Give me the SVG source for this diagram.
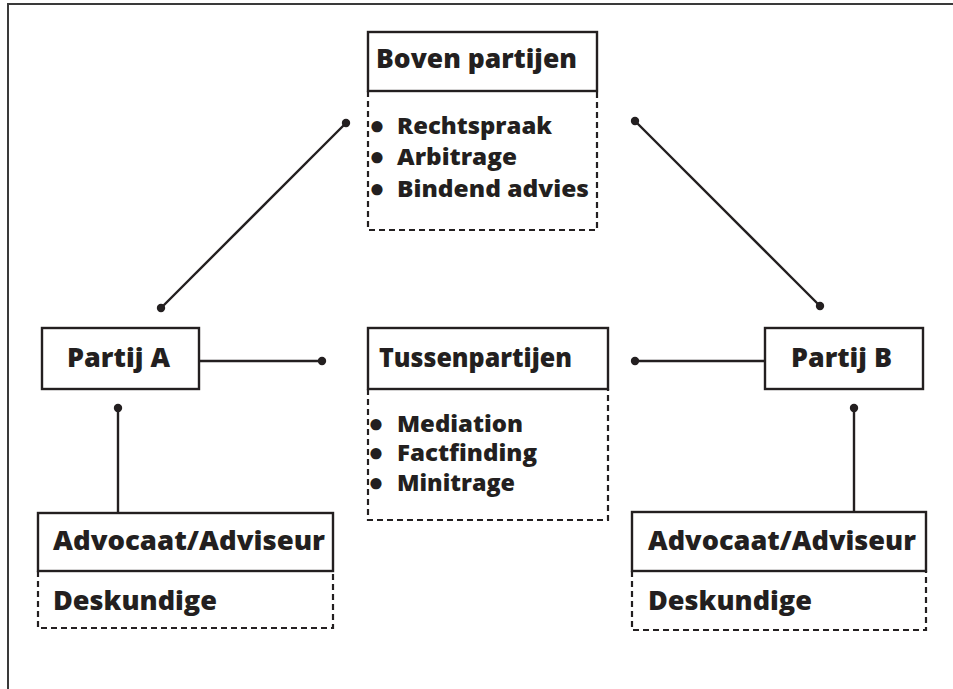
<svg xmlns="http://www.w3.org/2000/svg" width="953" height="689" viewBox="0 0 953 689">
<style>
.bg{fill:#ffffff}
.frame{fill:none;stroke:#3a3a3a;stroke-width:2}
.solid{fill:#ffffff;stroke:#231f20;stroke-width:2.4}
.dash{fill:none;stroke:#231f20;stroke-width:2.2;stroke-dasharray:6 4}
.line{stroke:#231f20;stroke-width:2.4;fill:none}
.dot{fill:#231f20}
.t{font-family:"Open Sans","Liberation Sans",sans-serif;font-weight:800;fill:#231f20}
.h{font-size:26px}
.b{font-size:23px}
.s{font-size:22px}
.bu{font-family:Lato,"Liberation Sans",sans-serif;font-weight:900;font-size:24px;fill:#231f20}
</style>
<rect class="bg" x="0" y="0" width="953" height="689"/>
<path class="frame" d="M8,689 V4 H953"/>

<g id="connectors">
  <line class="line" x1="161" y1="308" x2="346" y2="123"/>
  <circle class="dot" cx="161" cy="308" r="4.2"/>
  <circle class="dot" cx="346" cy="123" r="4.2"/>
  <line class="line" x1="635" y1="121" x2="820" y2="306"/>
  <circle class="dot" cx="635" cy="121" r="4.2"/>
  <circle class="dot" cx="820" cy="306" r="4.2"/>
  <line class="line" x1="199" y1="361" x2="322" y2="361"/>
  <circle class="dot" cx="322" cy="361" r="4.2"/>
  <line class="line" x1="635" y1="361" x2="765" y2="361"/>
  <circle class="dot" cx="635" cy="361" r="4.2"/>
  <line class="line" x1="118" y1="408" x2="118" y2="513"/>
  <circle class="dot" cx="118" cy="408" r="4.2"/>
  <line class="line" x1="854" y1="408" x2="854" y2="512"/>
  <circle class="dot" cx="854" cy="408" r="4.2"/>
</g>

<g id="boven">
  <path class="dash" d="M368,91 V230 H597 V91"/>
  <rect class="solid" x="368" y="32" width="229" height="59"/>
  <text class="t h" x="376" y="68" textLength="201" lengthAdjust="spacingAndGlyphs">Boven partijen</text>
  <text class="bu" x="370" y="134">•</text>
  <text class="t b" x="397" y="134" textLength="155" lengthAdjust="spacingAndGlyphs">Rechtspraak</text>
  <text class="bu" x="370" y="165">•</text>
  <text class="t b" x="397" y="165" textLength="120" lengthAdjust="spacingAndGlyphs">Arbitrage</text>
  <text class="bu" x="370" y="197">•</text>
  <text class="t b" x="397" y="197" textLength="192" lengthAdjust="spacingAndGlyphs">Bindend advies</text>
</g>

<g id="partijA">
  <rect class="solid" x="42" y="328" width="157" height="61"/>
  <text class="t h" x="67" y="367" textLength="103" lengthAdjust="spacingAndGlyphs">Partij A</text>
</g>

<g id="tussen">
  <path class="dash" d="M368,389 V520 H608 V389"/>
  <rect class="solid" x="368" y="328" width="240" height="61"/>
  <text class="t h" x="379" y="367" textLength="193" lengthAdjust="spacingAndGlyphs">Tussenpartijen</text>
  <text class="bu" x="369" y="432">•</text>
  <text class="t s" x="397" y="432" textLength="126" lengthAdjust="spacingAndGlyphs">Mediation</text>
  <text class="bu" x="369" y="461">•</text>
  <text class="t s" x="397" y="461" textLength="140" lengthAdjust="spacingAndGlyphs">Factfinding</text>
  <text class="bu" x="369" y="491">•</text>
  <text class="t s" x="397" y="491" textLength="118" lengthAdjust="spacingAndGlyphs">Minitrage</text>
</g>

<g id="partijB">
  <rect class="solid" x="765" y="328" width="158" height="61"/>
  <text class="t h" x="791" y="367" textLength="101" lengthAdjust="spacingAndGlyphs">Partij B</text>
</g>

<g id="advA">
  <path class="dash" d="M38,571 V628 H333 V571"/>
  <rect class="solid" x="38" y="513" width="295" height="58"/>
  <text class="t h" x="53" y="550" textLength="272" lengthAdjust="spacingAndGlyphs">Advocaat/Adviseur</text>
  <text class="t h" x="53" y="610" textLength="164" lengthAdjust="spacingAndGlyphs">Deskundige</text>
</g>

<g id="advB">
  <path class="dash" d="M632,571 V630 H926 V571"/>
  <rect class="solid" x="632" y="512" width="294" height="59"/>
  <text class="t h" x="648" y="550" textLength="268" lengthAdjust="spacingAndGlyphs">Advocaat/Adviseur</text>
  <text class="t h" x="648" y="610" textLength="164" lengthAdjust="spacingAndGlyphs">Deskundige</text>
</g>
</svg>
